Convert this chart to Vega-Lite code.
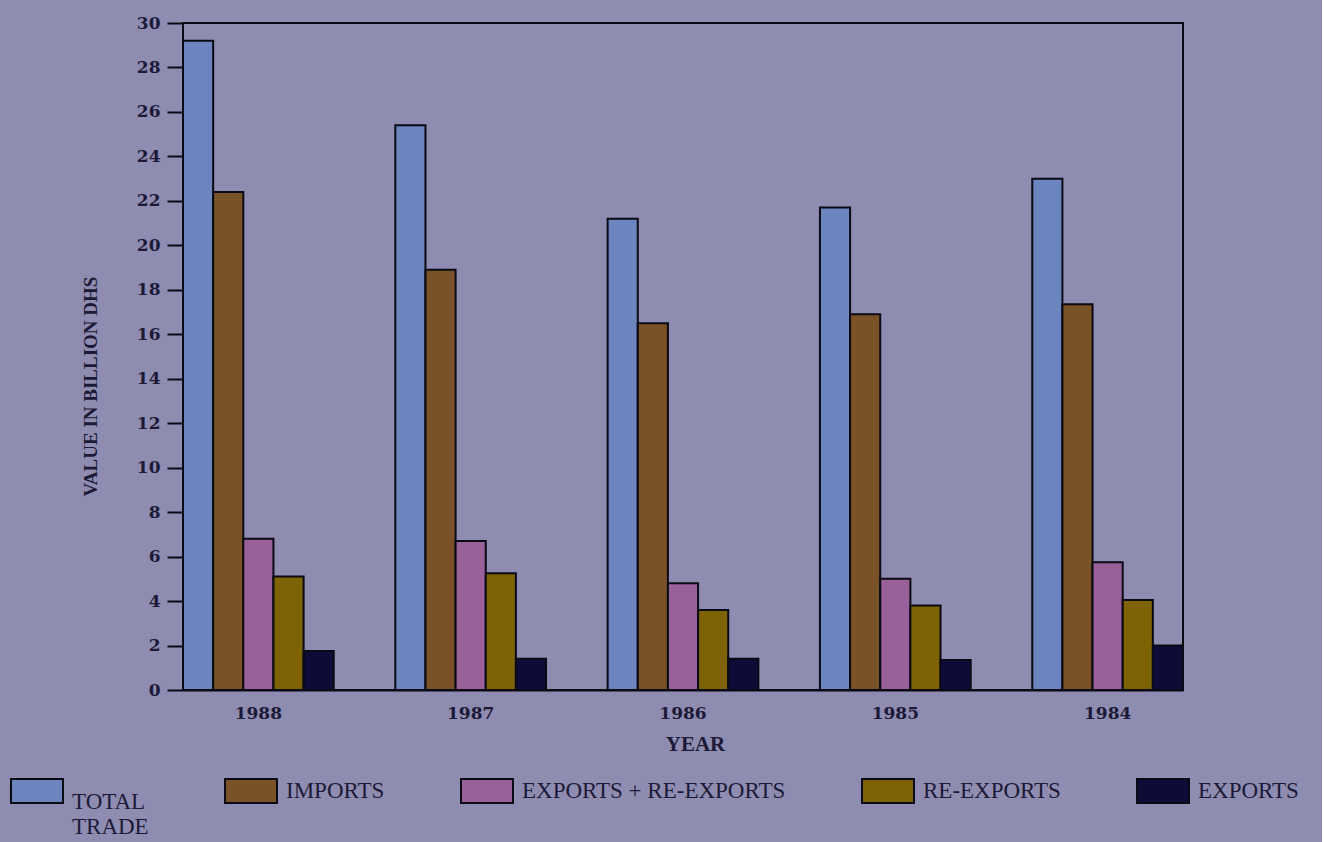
{
  "$schema": "https://vega.github.io/schema/vega-lite/v6.json",
  "autosize": "none",
  "padding": {"left": 183, "top": 23, "right": 139, "bottom": 152},
  "width": 1000,
  "height": 667,
  "background": "#8f8cb2",
  "config": {
    "view": {"stroke": "#0a0a14", "strokeWidth": 2},
    "font": "Liberation Serif"
  },
  "data": {
    "values": [
      {"year": "1988", "series": "TOTAL TRADE", "value": 29.2},
      {"year": "1988", "series": "IMPORTS", "value": 22.4},
      {"year": "1988", "series": "EXPORTS + RE-EXPORTS", "value": 6.8},
      {"year": "1988", "series": "RE-EXPORTS", "value": 5.1},
      {"year": "1988", "series": "EXPORTS", "value": 1.75},
      {"year": "1987", "series": "TOTAL TRADE", "value": 25.4},
      {"year": "1987", "series": "IMPORTS", "value": 18.9},
      {"year": "1987", "series": "EXPORTS + RE-EXPORTS", "value": 6.7},
      {"year": "1987", "series": "RE-EXPORTS", "value": 5.25},
      {"year": "1987", "series": "EXPORTS", "value": 1.4},
      {"year": "1986", "series": "TOTAL TRADE", "value": 21.2},
      {"year": "1986", "series": "IMPORTS", "value": 16.5},
      {"year": "1986", "series": "EXPORTS + RE-EXPORTS", "value": 4.8},
      {"year": "1986", "series": "RE-EXPORTS", "value": 3.6},
      {"year": "1986", "series": "EXPORTS", "value": 1.4},
      {"year": "1985", "series": "TOTAL TRADE", "value": 21.7},
      {"year": "1985", "series": "IMPORTS", "value": 16.9},
      {"year": "1985", "series": "EXPORTS + RE-EXPORTS", "value": 5.0},
      {"year": "1985", "series": "RE-EXPORTS", "value": 3.8},
      {"year": "1985", "series": "EXPORTS", "value": 1.35},
      {"year": "1984", "series": "TOTAL TRADE", "value": 23.0},
      {"year": "1984", "series": "IMPORTS", "value": 17.35},
      {"year": "1984", "series": "EXPORTS + RE-EXPORTS", "value": 5.75},
      {"year": "1984", "series": "RE-EXPORTS", "value": 4.05},
      {"year": "1984", "series": "EXPORTS", "value": 2.0}
    ]
  },
  "mark": {"type": "bar", "stroke": "#0a0a14", "strokeWidth": 2},
  "encoding": {
    "x": {
      "field": "year",
      "type": "nominal",
      "sort": ["1988", "1987", "1986", "1985", "1984"],
      "scale": {"paddingInner": 0.29, "paddingOuter": 0},
      "axis": {
        "title": "YEAR",
        "labelAngle": 0,
        "ticks": false,
        "domain": true,
        "domainColor": "#0a0a14",
        "domainWidth": 2,
        "labelPadding": 15,
        "labelFont": "DejaVu Serif",
        "labelFontSize": 17,
        "labelFontWeight": "bold",
        "labelColor": "#1c1a36",
        "titleFontSize": 21,
        "titleFontWeight": "bold",
        "titleColor": "#1c1a36",
        "titlePadding": 12,
        "titleX": 512
      }
    },
    "xOffset": {
      "field": "series",
      "type": "nominal",
      "sort": ["TOTAL TRADE", "IMPORTS", "EXPORTS + RE-EXPORTS", "RE-EXPORTS", "EXPORTS"],
      "scale": {"paddingInner": 0, "paddingOuter": 0}
    },
    "y": {
      "field": "value",
      "type": "quantitative",
      "scale": {"domain": [0, 30], "nice": false},
      "axis": {
        "title": "VALUE IN BILLION DHS",
        "values": [0, 2, 4, 6, 8, 10, 12, 14, 16, 18, 20, 22, 24, 26, 28, 30],
        "grid": false,
        "domain": false,
        "tickSize": 16,
        "tickWidth": 2,
        "tickColor": "#0a0a14",
        "labelPadding": 7,
        "labelFont": "DejaVu Serif",
        "labelFontSize": 17,
        "labelFontWeight": "bold",
        "labelColor": "#1c1a36",
        "titleFontSize": 19,
        "titleFontWeight": "bold",
        "titleColor": "#1c1a36",
        "titlePadding": 36,
        "titleY": 363
      }
    },
    "color": {
      "field": "series",
      "type": "nominal",
      "sort": ["TOTAL TRADE", "IMPORTS", "EXPORTS + RE-EXPORTS", "RE-EXPORTS", "EXPORTS"],
      "scale": {
        "domain": ["TOTAL TRADE", "IMPORTS", "EXPORTS + RE-EXPORTS", "RE-EXPORTS", "EXPORTS"],
        "range": ["#6c85bf", "#7a5227", "#9a6099", "#7d6303", "#0d0b38"]
      },
      "legend": {
        "title": null,
        "orient": "none",
        "legendX": -173,
        "legendY": 741,
        "direction": "horizontal",
        "columns": 5,
        "gridAlign": "none",
        "columnPadding": 72,
        "symbolType": "M-1,-0.46L1,-0.46L1,0.46L-1,0.46Z",
        "symbolSize": 2704,
        "symbolStrokeColor": "#0a0a14",
        "symbolStrokeWidth": 2,
        "symbolOpacity": 1,
        "labelFontSize": 23,
        "labelColor": "#1c1a36",
        "labelOffset": 8,
        "labelLimit": 400,
        "labelBaseline": {"expr": "datum.value == 'TOTAL TRADE' ? 'top' : 'middle'"},
        "labelExpr": "datum.label == 'TOTAL TRADE' ? ['TOTAL', 'TRADE'] : datum.label"
      }
    }
  }
}
